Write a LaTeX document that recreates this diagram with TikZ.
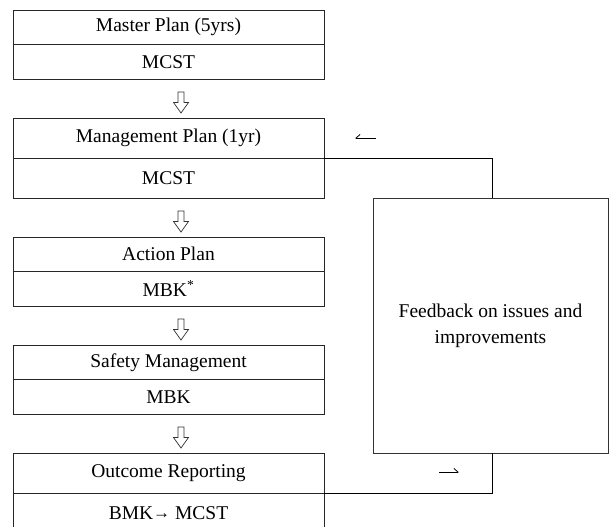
\documentclass[tikz,border=0pt]{standalone}
\usepackage{fontspec}
\setmainfont{Liberation Serif}
\usetikzlibrary{calc,arrows.meta}

\tikzset{
  rowbox/.style={draw=black!85, line width=0.8pt, minimum width=311pt, inner sep=0pt,
    font=\fontsize{19.5}{23}\selectfont},
  tallrow/.style={rowbox, minimum height=40pt},
  shortrow/.style={rowbox, minimum height=34.5pt},
  link/.style={draw=black, line width=0.9pt},
  fbbox/.style={draw=black!80, line width=0.9pt, minimum width=235pt, minimum height=255pt,
    inner sep=0pt, align=center, font=\fontsize{19.5}{26}\selectfont},
  dirmark/.style={line width=0.8pt, draw=black},
  downarrow/.pic={
    \draw[line width=0.7pt, draw=black!80, fill=white]
      (-3,-10.5) -- (3,-10.5) -- (3,0) -- (7.5,0) -- (0,10.5) -- (-7.5,0) -- (-3,0) -- cycle;
  }
}

\begin{document}
\begin{tikzpicture}[x=1pt, y=-1pt]
  \useasboundingbox (0,0) rectangle (610,527);
  \clip (0,0) rectangle (610,527);

  % planning chain, each stage with its responsible body
  \node[shortrow] (mp)  at (168.5,27.25)  {Master Plan (5yrs)};
  \node[shortrow] (mpo) at (168.5,61.75)  {MCST};
  \node[tallrow]  (gp)  at (168.5,138)    {Management Plan (1yr)};
  \node[tallrow]  (gpo) at (168.5,178)    {MCST};
  \node[shortrow] (ap)  at (168.5,254.25) {Action Plan};
  \node[shortrow] (apo) at (168.5,288.75) {MBK\textsuperscript{*}};
  \node[shortrow] (sm)  at (168.5,362.25) {Safety Management};
  \node[shortrow] (smo) at (168.5,396.75) {MBK};
  \node[tallrow]  (or)  at (168.5,473)    {Outcome Reporting};
  \node[tallrow]  (oro) at (168.5,513)    {BMK{\fontsize{17}{17}\selectfont\raisebox{0.5pt}{→}} MCST};

  % hollow arrows between the stages
  \pic at (181,102.5) {downarrow};
  \pic at (181,221.5) {downarrow};
  \pic at (181,329.5) {downarrow};
  \pic at (181,437.5) {downarrow};

  % feedback loop
  \node[fbbox] (fb) at (490.5,325.5) {Feedback on issues and\\improvements};
  \coordinate (fbtop) at (fb.north -| 492,0);
  \coordinate (fbbot) at (fb.south -| 492,0);
  \draw[link] (gp.south east) -| (fbtop);
  \draw[link] (fbbot) |- (or.south east);

  % direction marks along the loop
  \coordinate (backA) at (376,138);
  \coordinate (backB) at (355,138);
  \coordinate (fwdA)  at (439,472);
  \coordinate (fwdB)  at (459,472);
  \draw[dirmark, -{Straight Barb[right, length=4pt, width=7pt]}] (backA) -- (backB);
  \draw[dirmark, -{Straight Barb[left, length=4pt, width=7pt]}] (fwdA) -- (fwdB);
\end{tikzpicture}
\end{document}
